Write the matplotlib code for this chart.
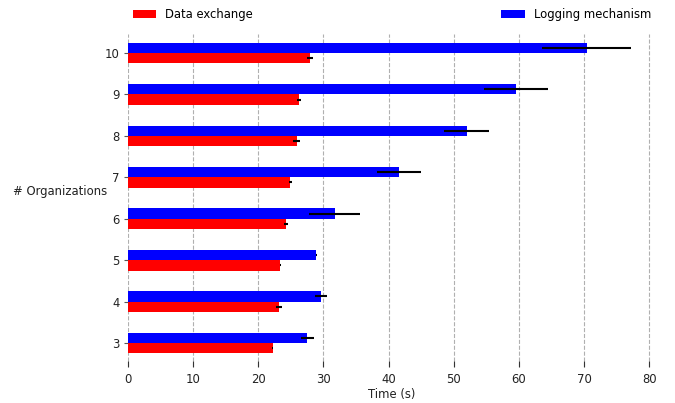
import matplotlib
matplotlib.use("Agg")
import matplotlib.pyplot as plt
import numpy as np

organizations = [3, 4, 5, 6, 7, 8, 9, 10]
data_exchange = [22.2, 23.15, 23.4, 24.2, 24.9, 25.9, 26.25, 27.9]
data_exchange_err = [0.1, 0.5, 0.1, 0.3, 0.2, 0.55, 0.3, 0.45]
logging = [27.5, 29.6, 28.9, 31.7, 41.6, 52.0, 59.6, 70.4]
logging_err = [1.0, 0.9, 0.1, 3.85, 3.4, 3.45, 4.9, 6.8]

fs = 8.4
fig = plt.figure(figsize=(6.75, 4.03), dpi=100)
ax = fig.add_axes([0.1896, 0.0893, 0.7824, 0.8263])

y = np.array(organizations, dtype=float)
h = 0.25
ax.barh(y - h / 2, data_exchange, height=h, color='#ff0000', xerr=data_exchange_err,
        error_kw=dict(ecolor='black', elinewidth=1.5, capsize=0), label='Data exchange', zorder=2)
ax.barh(y + h / 2, logging, height=h, color='#0000ff', xerr=logging_err,
        error_kw=dict(ecolor='black', elinewidth=1.5, capsize=0), label='Logging mechanism', zorder=2)

ax.set_ylim(2.42, 10.46)
ax.set_xlim(0, 81.06)
ax.set_yticks(organizations)
ax.set_yticklabels([str(o) for o in organizations])
ax.set_xticks([0, 10, 20, 30, 40, 50, 60, 70, 80])

for s in ax.spines.values():
    s.set_visible(False)

ax.grid(axis='x', linestyle='--', color='#b0b0b0', linewidth=0.8, zorder=0)
ax.set_axisbelow(True)
ax.tick_params(axis='y', length=3, color='#555555', labelsize=fs, labelcolor='#222222', pad=3)
ax.tick_params(axis='x', direction='in', length=4, color='#333333', labelsize=fs, labelcolor='#222222', pad=4)

ax.set_xlabel('Time (s)', fontsize=fs, color='#222222', labelpad=2)
ax.set_ylabel('# Organizations', fontsize=fs, color='#222222', rotation=0, ha='right', va='center')
ax.yaxis.set_label_coords(-0.04, 0.5285)

ax.legend(loc='lower left', bbox_to_anchor=(0.0, 1.025, 1.0, 0.102), ncol=2, mode='expand',
          frameon=False, fontsize=fs, borderaxespad=0.0, handlelength=2)

fig.savefig('out.png', dpi=100)
